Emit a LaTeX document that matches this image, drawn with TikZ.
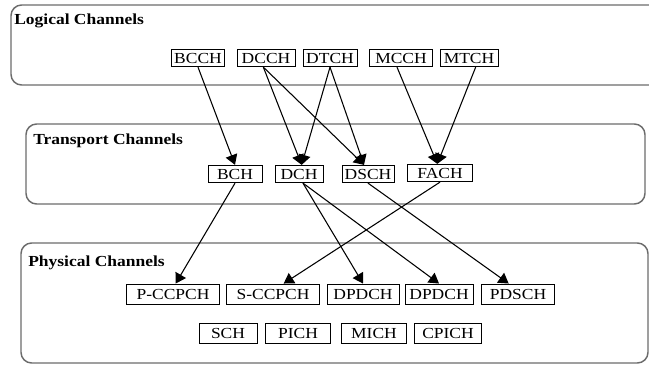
\documentclass[tikz,border=0pt]{standalone}
\usepackage{fontspec}
\setmainfont{Liberation Serif}[FakeStretch=1.14]
\usetikzlibrary{arrows.meta}

\begin{document}
\begin{tikzpicture}[x=0.75pt,y=-0.75pt,
	group/.style={draw=black!58, line width=1.1pt, rounded corners=8pt},
	title/.style={anchor=base west, inner sep=0pt, font=\fontsize{11.5}{13}\selectfont\bfseries},
	chan/.style={draw, line width=0.7pt, fill=white, inner xsep=2pt, inner ysep=1pt, minimum height=13pt, minimum width=#1*0.75pt, font=\fontsize{11.5}{13}\selectfont},
	phys/.style={chan=#1, minimum height=15pt},
	arr/.style={-{Triangle[length=7.5pt,width=9pt]}, line width=0.8pt}]
	
	\clip (0,0) rectangle (649,365);
	
	% the three groups
	\draw[group] (11,5) rectangle (690,85);
	\draw[group] (26,124) rectangle (645,204);
	\draw[group] (21,243) rectangle (648,363);
	\node[title] (logt) at (14,24) {Logical Channels};
	\node[title] (trat) at (33,144) {Transport Channels};
	\node[title] (phyt) at (28,266) {Physical Channels};
	
	% logical channels
	\node[chan=52] (bcch) at (198,58) {BCCH};
	\node[chan=58] (dcch) at (266,58) {DCCH};
	\node[chan=54] (dtch) at (330,58) {DTCH};
	\node[chan=63] (mcch) at (401,58) {MCCH};
	\node[chan=58] (mtch) at (469,58) {MTCH};
	
	% transport channels
	\node[chan=54] (bch) at (235,174) {BCH};
	\node[chan=48] (dch) at (299,174) {DCH};
	\node[chan=52] (dsch) at (368,174) {DSCH};
	\node[chan=65] (fach) at (440,173) {FACH};
	
	% physical channels
	\node[phys=93] (pccpch) at (173,294) {P-CCPCH};
	\node[phys=93] (sccpch) at (273,294) {S-CCPCH};
	\node[phys=72] (dpdcha) at (363,294) {DPDCH};
	\node[phys=68] (dpdchb) at (439,294) {DPDCH};
	\node[phys=73] (pdsch) at (518,294) {PDSCH};
	\node[phys=58] (sch) at (228,333) {SCH};
	\node[phys=65] (pich) at (298,333) {PICH};
	\node[phys=65] (mich) at (374,333) {MICH};
	\node[phys=67] (cpich) at (448,333) {CPICH};
	
	% logical -> transport
	\draw[arr] (bcch.south) -- (bch.north);
	\draw[arr] ([xshift=-2pt]dcch.south) -- ([xshift=2pt]dch.north);
	\draw[arr] ([xshift=-2pt]dcch.south) -- ([xshift=-3pt]dsch.north);
	\draw[arr] (dtch.south) -- ([xshift=2pt]dch.north);
	\draw[arr] (dtch.south) -- ([xshift=-3pt]dsch.north);
	\draw[arr] ([xshift=-3pt]mcch.south) -- ([xshift=-2pt]fach.north);
	\draw[arr] ([xshift=5pt]mtch.south) -- ([xshift=-2pt]fach.north);
	
	% transport -> physical
	\draw[arr] (bch.south) -- ([xshift=2pt]pccpch.north);
	\draw[arr] ([xshift=3pt]dch.south) -- (dpdcha.north);
	\draw[arr] ([xshift=3pt]dch.south) -- (dpdchb.north);
	\draw[arr] (dsch.south) -- ([xshift=-7pt]pdsch.north);
	\draw[arr] (fach.south) -- ([xshift=8pt]sccpch.north);
\end{tikzpicture}
\end{document}
